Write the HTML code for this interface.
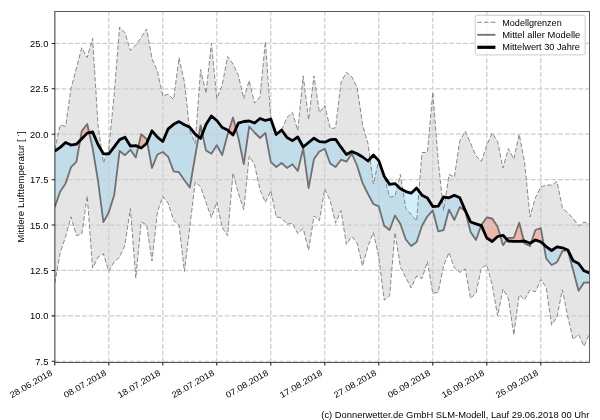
<!DOCTYPE html>
<html><head><meta charset="utf-8"><title>Chart</title>
<style>html,body{margin:0;padding:0;background:#fff}svg{display:block;will-change:transform}text{font-family:"Liberation Sans",sans-serif;fill:#000}</style></head>
<body>
<svg width="600" height="420" viewBox="0 0 600 420">
<rect width="600" height="420" fill="#fff"/>
<defs><clipPath id="ax"><rect x="54.8" y="11.55" width="534.7" height="350.75"/></clipPath></defs>
<g clip-path="url(#ax)">
<path d="M54.8 150 L60.2 125 L65.6 126.3 L71 88.6 L76.4 68 L81.8 47.8 L87.2 57.6 L92.6 38.5 L98 125 L103.4 163 L108.8 149 L114.2 94 L119.6 27.1 L125 32.8 L130.4 50.5 L135.8 45 L141.2 37.3 L146.6 28.9 L152 58.6 L157.4 71.2 L162.8 96 L168.2 94.2 L173.6 99.6 L179 57.7 L184.4 82 L189.8 131 L195.2 143.5 L200.6 69.6 L206 93.3 L211.4 43.3 L216.8 98.7 L222.2 85.2 L227.6 56.4 L233 64 L238.4 75.5 L243.8 98.7 L249.2 80.5 L254.6 103.2 L260 96.9 L265.4 41.5 L270.8 119 L276.2 134.5 L281.6 130 L287 117.5 L292.4 112.3 L297.8 130.5 L303.2 75.9 L308.6 119.7 L314 75.9 L319.4 112.5 L324.8 105.3 L330.2 128.7 L335.6 127.8 L341 82.2 L346.4 72.3 L351.8 76.8 L357.2 87.6 L362.6 124.8 L368 143.5 L373.4 184 L378.8 160 L384.2 176 L389.6 197 L395 196.2 L400.4 174.4 L405.8 208.5 L411.2 214.5 L416.6 221 L422 152.5 L427.4 152.4 L432.8 92.2 L438.2 161 L443.6 210.5 L449 174.5 L454.4 176.9 L459.8 140.8 L465.2 131.3 L470.6 143.3 L476 156 L481.4 161.3 L486.8 145.2 L492.2 133 L497.6 141.5 L503 168 L508.4 148.7 L513.8 159 L519.2 134.3 L524.6 162.2 L530 217 L535.4 197.7 L540.8 186.9 L546.2 185.1 L551.6 185.1 L557 181.5 L562.4 207.6 L567.8 213 L573.2 218.4 L578.6 226 L584 222 L589.4 223.8 L589.4 334.1 L584 346.2 L578.6 334.1 L573.2 339.5 L567.8 317 L562.4 289.7 L557 317 L551.6 325.1 L546.2 287.5 L540.8 279.5 L535.4 291.8 L530 290 L524.6 299.7 L519.2 294.7 L513.8 335 L508.4 298.6 L503 289 L497.6 316 L492.2 285 L486.8 265 L481.4 267.9 L476 293.1 L470.6 298.5 L465.2 268.8 L459.8 272.4 L454.4 267.9 L449 252.5 L443.6 266 L438.2 292.2 L432.8 293.5 L427.4 261.5 L422 278.6 L416.6 275.9 L411.2 288 L405.8 277.7 L400.4 266.9 L395 232.6 L389.6 295.7 L384.2 300.2 L378.8 257 L373.4 232.5 L368 246.2 L362.6 266 L357.2 243.5 L351.8 236.3 L346.4 244.4 L341 210.6 L335.6 223.2 L330.2 200.8 L324.8 189 L319.4 220.6 L314 216 L308.6 250.2 L303.2 228.6 L297.8 233.6 L292.4 223.2 L287 224.2 L281.6 217.8 L276.2 217 L270.8 190.7 L265.4 202.4 L260 189.8 L254.6 165 L249.2 156 L243.8 209.6 L238.4 193.4 L233 172.9 L227.6 235.7 L222.2 227.6 L216.8 202 L211.4 217.7 L206 202.4 L200.6 186.8 L195.2 181.9 L189.8 227 L184.4 271.5 L179 224.9 L173.6 220.4 L168.2 203.3 L162.8 196.5 L157.4 212 L152 260.9 L146.6 224.9 L141.2 222 L135.8 278 L130.4 208.6 L125 244.7 L119.6 257.3 L114.2 261.8 L108.8 271.2 L103.4 253.7 L98 257.3 L92.6 268.1 L87.2 196 L81.8 233.9 L76.4 235.7 L71 216.8 L65.6 236.6 L60.2 252.8 L54.8 283.4Z" fill="#e5e5e5"/>
<path d="M54.8 207 L60.2 191.5 L65.6 183.4 L71 167.2 L76.4 161.8 L80.16 140.37 L76.4 144.2 L71 145.1 L65.6 142.5 L60.2 147.4 L54.8 151ZM89.15 132.67 L92.6 148 L98 180.7 L103.4 222.1 L108.8 212.2 L114.2 195.1 L119.6 151 L125 155.2 L130.4 149.8 L135.8 157.5 L138.31 146.72 L135.8 145.6 L130.4 146 L125 137.2 L119.6 139.6 L114.2 146.9 L108.8 153.8 L103.4 153.8 L98 144.5 L92.6 131.9ZM147.18 142.13 L152 168 L157.4 154.5 L162.8 152 L168.2 156.9 L173.6 171.3 L179 172.2 L184.4 180.3 L189.8 187.5 L195.2 156 L198.58 136.89 L195.2 134.2 L189.8 127.3 L184.4 124.7 L179 121.6 L173.6 124.3 L168.2 128.8 L162.8 141.5 L157.4 137.2 L152 130.8ZM202.4 133.85 L206 150.6 L211.4 153.8 L216.8 145.2 L222.2 155.1 L227.6 134.4 L228.68 131 L227.6 130 L222.2 127.5 L216.8 120.5 L211.4 116 L206 124.5ZM235.93 128.61 L238.4 138 L243.8 164.1 L249.2 126.5 L254.6 132.5 L260 138 L265.4 133 L270.8 161.8 L276.2 167 L281.6 163 L287 167.9 L292.4 164.3 L297.8 171 L303.2 148.5 L308.6 188.2 L314 158.9 L319.4 151.5 L324.8 148.8 L330.2 163.5 L335.6 167 L341 159.7 L346.4 161.7 L351.8 153.5 L357.2 166 L362.6 183.2 L368 194 L373.4 204 L378.8 206.4 L384.2 225.7 L389.6 230 L395 215.5 L400.4 224 L405.8 239.5 L411.2 246 L416.6 242 L422 225.7 L427.4 216.3 L432.8 210.4 L438.2 231.3 L443.6 230 L449 209.6 L454.4 220 L459.8 207.1 L465.2 211 L470.6 231.9 L476 240 L481.12 225.51 L476 223.8 L470.6 222 L465.2 210.4 L459.8 197.7 L454.4 195.3 L449 197.8 L443.6 197 L438.2 206.2 L432.8 206.5 L427.4 198 L422 195.2 L416.6 188.1 L411.2 193.2 L405.8 191.6 L400.4 188.7 L395 183.6 L389.6 184.4 L384.2 176.3 L378.8 160.6 L373.4 155 L368 161 L362.6 157 L357.2 153.8 L351.8 151.6 L346.4 154.5 L341 147.2 L335.6 139.3 L330.2 139.7 L324.8 142.2 L319.4 141.6 L314 138.2 L308.6 142.5 L303.2 147 L297.8 137 L292.4 140.6 L287 137.5 L281.6 130 L276.2 134.5 L270.8 119 L265.4 120.5 L260 118.5 L254.6 123 L249.2 121 L243.8 121.5 L238.4 123.2ZM500.27 235.91 L503 245.2 L507.08 239.61 L503 235.3ZM523.96 241.04 L524.6 243.5 L530 246 L531.15 242.6 L530 243.3 L524.6 241ZM543.69 244.37 L546.2 258.5 L551.6 265 L557 262.2 L562.4 251.2 L567.8 250.2 L573.2 270.5 L578.6 290.8 L584 282.6 L589.4 282.5 L589.4 272.9 L584 270.8 L578.6 263.5 L573.2 260.8 L567.8 250 L562.4 247.8 L557 246.8 L551.6 250.5 L546.2 246.6Z" fill="rgba(108,202,245,0.3)"/>
<path d="M80.16 140.37 L81.8 131 L87.2 124 L89.15 132.67 L87.2 133.1 L81.8 138.7ZM138.31 146.72 L141.2 134.3 L146.6 139 L147.18 142.13 L146.6 143.5 L141.2 148ZM198.58 136.89 L200.6 125.5 L202.4 133.85 L200.6 138.5ZM228.68 131 L233 117.5 L235.93 128.61 L233 135ZM481.12 225.51 L481.4 224.7 L486.8 217.5 L492.2 218.5 L497.6 226.8 L500.27 235.91 L497.6 236.5 L492.2 241.5 L486.8 238 L481.4 225.6ZM507.08 239.61 L508.4 237.8 L513.8 237.8 L519.2 222.7 L523.96 241.04 L519.2 241.3 L513.8 241.3 L508.4 241ZM531.15 242.6 L535.4 230 L540.8 228.1 L543.69 244.37 L540.8 241.8 L535.4 240Z" fill="rgba(250,120,90,0.42)"/>
<path d="M108.8 362.3 V11.55 M162.8 362.3 V11.55 M216.8 362.3 V11.55 M270.8 362.3 V11.55 M324.8 362.3 V11.55 M378.8 362.3 V11.55 M432.8 362.3 V11.55 M486.8 362.3 V11.55 M540.8 362.3 V11.55 M54.8 43.4 H589.5 M54.8 88.81 H589.5 M54.8 134.23 H589.5 M54.8 179.65 H589.5 M54.8 225.06 H589.5 M54.8 270.48 H589.5 M54.8 315.89 H589.5 M54.8 361.31 H589.5" fill="none" stroke="#cdcdcd" stroke-width="1.25" stroke-dasharray="4.8 2.0"/>
<path d="M54.8 150 L60.2 125 L65.6 126.3 L71 88.6 L76.4 68 L81.8 47.8 L87.2 57.6 L92.6 38.5 L98 125 L103.4 163 L108.8 149 L114.2 94 L119.6 27.1 L125 32.8 L130.4 50.5 L135.8 45 L141.2 37.3 L146.6 28.9 L152 58.6 L157.4 71.2 L162.8 96 L168.2 94.2 L173.6 99.6 L179 57.7 L184.4 82 L189.8 131 L195.2 143.5 L200.6 69.6 L206 93.3 L211.4 43.3 L216.8 98.7 L222.2 85.2 L227.6 56.4 L233 64 L238.4 75.5 L243.8 98.7 L249.2 80.5 L254.6 103.2 L260 96.9 L265.4 41.5 L270.8 119 L276.2 134.5 L281.6 130 L287 117.5 L292.4 112.3 L297.8 130.5 L303.2 75.9 L308.6 119.7 L314 75.9 L319.4 112.5 L324.8 105.3 L330.2 128.7 L335.6 127.8 L341 82.2 L346.4 72.3 L351.8 76.8 L357.2 87.6 L362.6 124.8 L368 143.5 L373.4 184 L378.8 160 L384.2 176 L389.6 197 L395 196.2 L400.4 174.4 L405.8 208.5 L411.2 214.5 L416.6 221 L422 152.5 L427.4 152.4 L432.8 92.2 L438.2 161 L443.6 210.5 L449 174.5 L454.4 176.9 L459.8 140.8 L465.2 131.3 L470.6 143.3 L476 156 L481.4 161.3 L486.8 145.2 L492.2 133 L497.6 141.5 L503 168 L508.4 148.7 L513.8 159 L519.2 134.3 L524.6 162.2 L530 217 L535.4 197.7 L540.8 186.9 L546.2 185.1 L551.6 185.1 L557 181.5 L562.4 207.6 L567.8 213 L573.2 218.4 L578.6 226 L584 222 L589.4 223.8" fill="none" stroke="#888888" stroke-width="1" stroke-dasharray="4.6 2.1" stroke-linejoin="round"/>
<path d="M54.8 283.4 L60.2 252.8 L65.6 236.6 L71 216.8 L76.4 235.7 L81.8 233.9 L87.2 196 L92.6 268.1 L98 257.3 L103.4 253.7 L108.8 271.2 L114.2 261.8 L119.6 257.3 L125 244.7 L130.4 208.6 L135.8 278 L141.2 222 L146.6 224.9 L152 260.9 L157.4 212 L162.8 196.5 L168.2 203.3 L173.6 220.4 L179 224.9 L184.4 271.5 L189.8 227 L195.2 181.9 L200.6 186.8 L206 202.4 L211.4 217.7 L216.8 202 L222.2 227.6 L227.6 235.7 L233 172.9 L238.4 193.4 L243.8 209.6 L249.2 156 L254.6 165 L260 189.8 L265.4 202.4 L270.8 190.7 L276.2 217 L281.6 217.8 L287 224.2 L292.4 223.2 L297.8 233.6 L303.2 228.6 L308.6 250.2 L314 216 L319.4 220.6 L324.8 189 L330.2 200.8 L335.6 223.2 L341 210.6 L346.4 244.4 L351.8 236.3 L357.2 243.5 L362.6 266 L368 246.2 L373.4 232.5 L378.8 257 L384.2 300.2 L389.6 295.7 L395 232.6 L400.4 266.9 L405.8 277.7 L411.2 288 L416.6 275.9 L422 278.6 L427.4 261.5 L432.8 293.5 L438.2 292.2 L443.6 266 L449 252.5 L454.4 267.9 L459.8 272.4 L465.2 268.8 L470.6 298.5 L476 293.1 L481.4 267.9 L486.8 265 L492.2 285 L497.6 316 L503 289 L508.4 298.6 L513.8 335 L519.2 294.7 L524.6 299.7 L530 290 L535.4 291.8 L540.8 279.5 L546.2 287.5 L551.6 325.1 L557 317 L562.4 289.7 L567.8 317 L573.2 339.5 L578.6 334.1 L584 346.2 L589.4 334.1" fill="none" stroke="#888888" stroke-width="1" stroke-dasharray="4.6 2.1" stroke-linejoin="round"/>
<path d="M54.8 207 L60.2 191.5 L65.6 183.4 L71 167.2 L76.4 161.8 L81.8 131 L87.2 124 L92.6 148 L98 180.7 L103.4 222.1 L108.8 212.2 L114.2 195.1 L119.6 151 L125 155.2 L130.4 149.8 L135.8 157.5 L141.2 134.3 L146.6 139 L152 168 L157.4 154.5 L162.8 152 L168.2 156.9 L173.6 171.3 L179 172.2 L184.4 180.3 L189.8 187.5 L195.2 156 L200.6 125.5 L206 150.6 L211.4 153.8 L216.8 145.2 L222.2 155.1 L227.6 134.4 L233 117.5 L238.4 138 L243.8 164.1 L249.2 126.5 L254.6 132.5 L260 138 L265.4 133 L270.8 161.8 L276.2 167 L281.6 163 L287 167.9 L292.4 164.3 L297.8 171 L303.2 148.5 L308.6 188.2 L314 158.9 L319.4 151.5 L324.8 148.8 L330.2 163.5 L335.6 167 L341 159.7 L346.4 161.7 L351.8 153.5 L357.2 166 L362.6 183.2 L368 194 L373.4 204 L378.8 206.4 L384.2 225.7 L389.6 230 L395 215.5 L400.4 224 L405.8 239.5 L411.2 246 L416.6 242 L422 225.7 L427.4 216.3 L432.8 210.4 L438.2 231.3 L443.6 230 L449 209.6 L454.4 220 L459.8 207.1 L465.2 211 L470.6 231.9 L476 240 L481.4 224.7 L486.8 217.5 L492.2 218.5 L497.6 226.8 L503 245.2 L508.4 237.8 L513.8 237.8 L519.2 222.7 L524.6 243.5 L530 246 L535.4 230 L540.8 228.1 L546.2 258.5 L551.6 265 L557 262.2 L562.4 251.2 L567.8 250.2 L573.2 270.5 L578.6 290.8 L584 282.6 L589.4 282.5" fill="none" stroke="#707070" stroke-width="1.8" stroke-linejoin="round"/>
<path d="M54.8 151 L60.2 147.4 L65.6 142.5 L71 145.1 L76.4 144.2 L81.8 138.7 L87.2 133.1 L92.6 131.9 L98 144.5 L103.4 153.8 L108.8 153.8 L114.2 146.9 L119.6 139.6 L125 137.2 L130.4 146 L135.8 145.6 L141.2 148 L146.6 143.5 L152 130.8 L157.4 137.2 L162.8 141.5 L168.2 128.8 L173.6 124.3 L179 121.6 L184.4 124.7 L189.8 127.3 L195.2 134.2 L200.6 138.5 L206 124.5 L211.4 116 L216.8 120.5 L222.2 127.5 L227.6 130 L233 135 L238.4 123.2 L243.8 121.5 L249.2 121 L254.6 123 L260 118.5 L265.4 120.5 L270.8 119 L276.2 134.5 L281.6 130 L287 137.5 L292.4 140.6 L297.8 137 L303.2 147 L308.6 142.5 L314 138.2 L319.4 141.6 L324.8 142.2 L330.2 139.7 L335.6 139.3 L341 147.2 L346.4 154.5 L351.8 151.6 L357.2 153.8 L362.6 157 L368 161 L373.4 155 L378.8 160.6 L384.2 176.3 L389.6 184.4 L395 183.6 L400.4 188.7 L405.8 191.6 L411.2 193.2 L416.6 188.1 L422 195.2 L427.4 198 L432.8 206.5 L438.2 206.2 L443.6 197 L449 197.8 L454.4 195.3 L459.8 197.7 L465.2 210.4 L470.6 222 L476 223.8 L481.4 225.6 L486.8 238 L492.2 241.5 L497.6 236.5 L503 235.3 L508.4 241 L513.8 241.3 L519.2 241.3 L524.6 241 L530 243.3 L535.4 240 L540.8 241.8 L546.2 246.6 L551.6 250.5 L557 246.8 L562.4 247.8 L567.8 250 L573.2 260.8 L578.6 263.5 L584 270.8 L589.4 272.9" fill="none" stroke="#000" stroke-width="2.8" stroke-linejoin="round" stroke-linecap="butt"/>
</g>
<g shape-rendering="crispEdges"><rect x="54" y="11" width="536" height="1" fill="#585858"/><rect x="54" y="362" width="536" height="1" fill="#555555"/><rect x="589" y="11" width="1" height="352" fill="#5f5f5f"/><rect x="54" y="11" width="1" height="352" fill="#7d7d7d"/><rect x="55" y="12" width="1" height="350" fill="rgba(0,0,0,0.29)"/></g>
<path d="M54.8 362.3 v3.3 M108.8 362.3 v3.3 M162.8 362.3 v3.3 M216.8 362.3 v3.3 M270.8 362.3 v3.3 M324.8 362.3 v3.3 M378.8 362.3 v3.3 M432.8 362.3 v3.3 M486.8 362.3 v3.3 M540.8 362.3 v3.3 M54.8 43.4 h-3.1 M54.8 88.81 h-3.1 M54.8 134.23 h-3.1 M54.8 179.65 h-3.1 M54.8 225.06 h-3.1 M54.8 270.48 h-3.1 M54.8 315.89 h-3.1 M54.8 361.31 h-3.1" stroke="#1a1a1a" stroke-width="1.05" fill="none"/>
<text x="48.4" y="47" font-size="8.5" text-anchor="end" textLength="18.3" lengthAdjust="spacingAndGlyphs">25.0</text>
<text x="48.4" y="92.41" font-size="8.5" text-anchor="end" textLength="18.3" lengthAdjust="spacingAndGlyphs">22.5</text>
<text x="48.4" y="137.83" font-size="8.5" text-anchor="end" textLength="18.3" lengthAdjust="spacingAndGlyphs">20.0</text>
<text x="48.4" y="183.25" font-size="8.5" text-anchor="end" textLength="18.3" lengthAdjust="spacingAndGlyphs">17.5</text>
<text x="48.4" y="228.66" font-size="8.5" text-anchor="end" textLength="18.3" lengthAdjust="spacingAndGlyphs">15.0</text>
<text x="48.4" y="274.08" font-size="8.5" text-anchor="end" textLength="18.3" lengthAdjust="spacingAndGlyphs">12.5</text>
<text x="48.4" y="319.49" font-size="8.5" text-anchor="end" textLength="18.3" lengthAdjust="spacingAndGlyphs">10.0</text>
<text x="48.4" y="364.91" font-size="8.5" text-anchor="end" textLength="13.1" lengthAdjust="spacingAndGlyphs">7.5</text>
<text transform="translate(53 374.5) rotate(-30)" font-size="8.5" text-anchor="end" textLength="47.6" lengthAdjust="spacingAndGlyphs">28.06.2018</text>
<text transform="translate(107 374.5) rotate(-30)" font-size="8.5" text-anchor="end" textLength="47.6" lengthAdjust="spacingAndGlyphs">08.07.2018</text>
<text transform="translate(161 374.5) rotate(-30)" font-size="8.5" text-anchor="end" textLength="47.6" lengthAdjust="spacingAndGlyphs">18.07.2018</text>
<text transform="translate(215 374.5) rotate(-30)" font-size="8.5" text-anchor="end" textLength="47.6" lengthAdjust="spacingAndGlyphs">28.07.2018</text>
<text transform="translate(269 374.5) rotate(-30)" font-size="8.5" text-anchor="end" textLength="47.6" lengthAdjust="spacingAndGlyphs">07.08.2018</text>
<text transform="translate(323 374.5) rotate(-30)" font-size="8.5" text-anchor="end" textLength="47.6" lengthAdjust="spacingAndGlyphs">17.08.2018</text>
<text transform="translate(377 374.5) rotate(-30)" font-size="8.5" text-anchor="end" textLength="47.6" lengthAdjust="spacingAndGlyphs">27.08.2018</text>
<text transform="translate(431 374.5) rotate(-30)" font-size="8.5" text-anchor="end" textLength="47.6" lengthAdjust="spacingAndGlyphs">06.09.2018</text>
<text transform="translate(485 374.5) rotate(-30)" font-size="8.5" text-anchor="end" textLength="47.6" lengthAdjust="spacingAndGlyphs">16.09.2018</text>
<text transform="translate(539 374.5) rotate(-30)" font-size="8.5" text-anchor="end" textLength="47.6" lengthAdjust="spacingAndGlyphs">26.09.2018</text>
<g transform="translate(24 186.6) rotate(-90)"><text x="-56.1" y="0" font-size="8.5" textLength="103.4" lengthAdjust="spacingAndGlyphs">Mittlere Lufttemperatur [</text><circle cx="51.3" cy="-5.6" r="0.75" fill="#666"/><text x="52.9" y="0" font-size="8.5">]</text></g>
<text x="589.3" y="417.8" font-size="8.5" text-anchor="end" textLength="268" lengthAdjust="spacingAndGlyphs">(c) Donnerwetter.de GmbH SLM-Modell, Lauf 29.06.2018 00 Uhr</text>
<rect x="475.2" y="15.3" width="110" height="39.6" rx="1.8" ry="1.8" fill="rgba(255,255,255,0.8)" stroke="#cccccc" stroke-width="1"/>
<path d="M477.3 22.3 H495.4" stroke="#888888" stroke-width="1" stroke-dasharray="4.6 2.1" fill="none"/>
<path d="M477.3 34.8 H495.4" stroke="#707070" stroke-width="1.8" fill="none"/>
<path d="M477.3 47.3 H495.4" stroke="#000" stroke-width="3.2" fill="none"/>
<text x="502.3" y="25.5" font-size="8.5" textLength="59.4" lengthAdjust="spacingAndGlyphs">Modellgrenzen</text>
<text x="502.3" y="37.9" font-size="8.5" textLength="78" lengthAdjust="spacingAndGlyphs">Mittel aller Modelle</text>
<text x="502.3" y="50.4" font-size="8.5" textLength="77.7" lengthAdjust="spacingAndGlyphs">Mittelwert 30 Jahre</text>
</svg>
</body></html>
